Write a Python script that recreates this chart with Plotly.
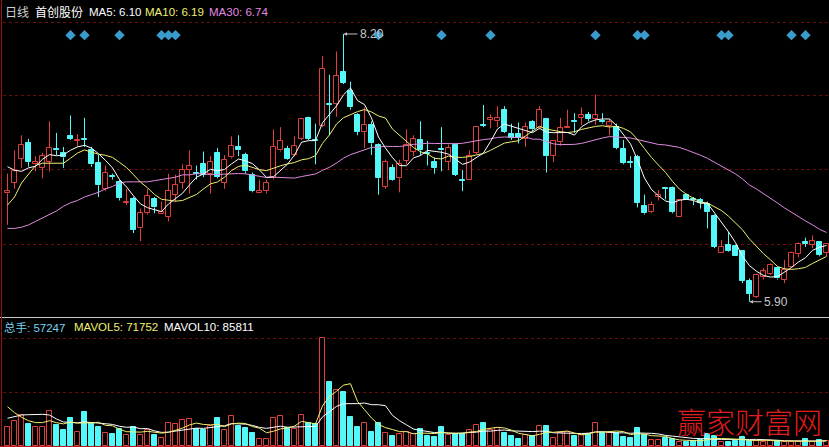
import plotly.graph_objects as go

# ---------------- data ----------------
opens = [6.83, 6.92, 7.13, 7.26, 7.08, 7.05, 7.10, 7.21, 7.18, 7.32,
         7.28, 7.30, 7.20, 7.09, 6.87, 6.98, 6.93, 6.75, 6.78, 6.53,
         6.66, 6.78, 6.65, 6.63, 6.82, 6.92, 7.03, 7.01, 7.08, 7.00,
         7.18, 6.92, 7.14, 7.23, 7.16, 6.99, 6.83, 6.85, 6.96, 7.20,
         7.21, 7.16, 7.30, 7.48, 7.29, 7.41, 7.60, 7.60, 7.87, 7.71,
         7.50, 7.36, 7.42, 7.25, 6.89, 7.05, 6.96, 7.11, 7.19, 7.29,
         7.18, 7.10, 7.21, 7.10, 7.25, 6.95, 6.95, 7.18, 7.42, 7.46,
         7.45, 7.55, 7.34, 7.34, 7.30, 7.44, 7.39, 7.47, 7.15, 7.27,
         7.39, 7.45, 7.48, 7.50, 7.47, 7.45, 7.41, 7.40, 7.21, 7.10,
         7.14, 6.72, 6.67, 6.80, 6.88, 6.88, 6.63, 6.82, 6.78, 6.77,
         6.74, 6.64, 6.32, 6.39, 6.38, 6.34, 6.08, 5.94, 6.11, 6.14,
         6.19, 6.09, 6.20, 6.31, 6.41, 6.39, 6.41, 6.32]
highs = [7.00, 7.20, 7.33, 7.30, 7.15, 7.18, 7.45, 7.35, 7.23, 7.50,
         7.34, 7.48, 7.23, 7.16, 7.07, 7.00, 6.95, 6.87, 6.80, 6.70,
         6.87, 6.80, 6.76, 7.00, 6.99, 7.08, 7.20, 7.07, 7.19, 7.15,
         7.22, 7.16, 7.32, 7.33, 7.18, 7.01, 6.95, 6.95, 7.38, 7.40,
         7.24, 7.32, 7.48, 7.49, 7.43, 8.01, 7.85, 8.05, 8.20, 7.79,
         7.52, 7.57, 7.45, 7.26, 7.12, 7.08, 7.12, 7.38, 7.33, 7.45,
         7.28, 7.14, 7.40, 7.25, 7.26, 7.03, 7.20, 7.40, 7.59, 7.51,
         7.58, 7.58, 7.43, 7.44, 7.44, 7.46, 7.58, 7.48, 7.29, 7.48,
         7.55, 7.52, 7.57, 7.53, 7.68, 7.52, 7.47, 7.43, 7.29, 7.15,
         7.16, 6.82, 6.76, 6.86, 6.88, 6.89, 6.78, 6.83, 6.80, 6.79,
         6.76, 6.65, 6.43, 6.50, 6.39, 6.34, 6.10, 6.14, 6.19, 6.23,
         6.20, 6.26, 6.33, 6.41, 6.45, 6.47, 6.42, 6.40]
lows = [6.56, 6.87, 7.05, 7.06, 7.02, 6.96, 7.02, 7.16, 7.05, 7.29,
        7.23, 7.23, 7.06, 6.80, 6.85, 6.95, 6.77, 6.73, 6.49, 6.42,
        6.65, 6.66, 6.65, 6.59, 6.76, 6.87, 6.83, 6.95, 6.97, 6.83,
        6.96, 6.87, 7.13, 7.15, 7.00, 6.84, 6.83, 6.83, 6.95, 7.19,
        7.12, 7.15, 7.29, 7.29, 7.08, 7.40, 7.33, 7.49, 7.77, 7.55,
        7.33, 7.22, 7.16, 6.82, 6.87, 6.94, 6.84, 7.08, 7.15, 7.16,
        7.07, 7.00, 7.02, 7.03, 6.98, 6.85, 6.95, 7.17, 7.40, 7.39,
        7.40, 7.35, 7.29, 7.26, 7.23, 7.36, 7.38, 7.01, 7.10, 7.24,
        7.39, 7.35, 7.42, 7.45, 7.42, 7.43, 7.33, 7.21, 7.08, 7.05,
        6.71, 6.65, 6.66, 6.77, 6.78, 6.66, 6.63, 6.77, 6.73, 6.70,
        6.53, 6.36, 6.32, 6.33, 6.29, 6.06, 5.90, 5.93, 6.09, 6.13,
        6.09, 6.06, 6.19, 6.28, 6.37, 6.36, 6.29, 6.29]
closes = [6.85, 7.02, 7.25, 7.10, 7.10, 7.15, 7.22, 7.20, 7.14, 7.30,
          7.29, 7.29, 7.08, 6.90, 7.01, 6.97, 6.79, 6.76, 6.52, 6.66,
          6.81, 6.71, 6.67, 6.85, 6.90, 7.03, 7.07, 7.00, 6.99, 7.10,
          6.97, 7.12, 7.24, 7.20, 7.02, 6.85, 6.85, 6.92, 7.23, 7.28,
          7.13, 7.24, 7.47, 7.30, 7.28, 7.90, 7.59, 7.84, 7.78, 7.57,
          7.36, 7.42, 7.26, 6.96, 7.10, 6.95, 7.08, 7.25, 7.30, 7.20,
          7.17, 7.05, 7.20, 7.22, 6.99, 6.94, 7.15, 7.40, 7.41, 7.48,
          7.48, 7.36, 7.31, 7.31, 7.40, 7.38, 7.55, 7.15, 7.28, 7.39,
          7.40, 7.44, 7.50, 7.47, 7.50, 7.44, 7.44, 7.22, 7.09, 7.09,
          6.75, 6.66, 6.73, 6.82, 6.87, 6.67, 6.77, 6.77, 6.77, 6.75,
          6.67, 6.37, 6.37, 6.34, 6.29, 6.08, 5.97, 6.13, 6.16, 6.22,
          6.10, 6.17, 6.32, 6.40, 6.40, 6.42, 6.30, 6.40]
volumes = [193000, 253000, 310000, 220000, 193000, 193000, 350000, 210000, 160000, 283000,
           143000, 343000, 227000, 193000, 127000, 120000, 167000, 110000, 187000, 110000,
           160000, 110000, 77000, 227000, 220000, 260000, 270000, 167000, 160000, 200000,
           283000, 160000, 300000, 200000, 183000, 133000, 73000, 73000, 277000, 300000,
           177000, 167000, 310000, 233000, 220000, 1077000, 643000, 560000, 543000, 293000,
           193000, 227000, 143000, 227000, 127000, 100000, 120000, 143000, 120000, 167000,
           100000, 93000, 187000, 110000, 120000, 120000, 160000, 210000, 227000, 160000,
           177000, 127000, 100000, 73000, 110000, 100000, 200000, 200000, 77000, 127000,
           143000, 100000, 110000, 120000, 227000, 133000, 133000, 135000, 93000, 77000,
           177000, 110000, 60000, 60000, 77000, 67000, 40000, 40000, 53000, 60000,
           120000, 100000, 43000, 43000, 53000, 87000, 53000, 50000, 43000, 53000,
           53000, 43000, 43000, 40000, 67000, 43000, 60000, 53000]
# moving-average values visible at the left edge (they depend on earlier, unseen days)
ma5_head = [7.06, 7.03, 7.02, 7.05]
ma10_head = [6.73, 6.80, 6.92, 7.00, 7.07, 7.09, 7.09, 7.09, 7.09]
ma30_head = [6.53, 6.53, 6.54, 6.56, 6.59, 6.62, 6.65, 6.68, 6.72, 6.75,
             6.77, 6.80, 6.82, 6.84, 6.87, 6.89, 6.92, 6.93, 6.93, 6.93,
             6.93, 6.94, 6.95, 6.96, 6.97, 6.99, 6.99, 7.00, 7.00]
mavol5_head = [393000, 333000, 287000, 253000]
mavol10_head = [277000, 293000, 310000, 313000, 317000, 317000, 310000, 270000, 240000]
signal_days = [9, 11, 16, 22, 23, 24, 53, 62, 69, 84, 90, 91, 102, 103, 112, 114]

stock_name = "首创股份"
title_vals = {"MA5": "6.10", "MA10": "6.19", "MA30": "6.74"}
vol_title = {"总手": "57247", "MAVOL5": "71752", "MAVOL10": "85811"}

# ---------------- styling ----------------
W, H = 829, 447
RED = "#e0403c"
CYAN = "#54f8f8"
WHITE = "#ffffff"
YELLOW = "#f0f070"
PINK = "#e08ae0"
GRID = "#6a0c0c"
SIG = "#3a9ccc"
LAT = "Liberation Sans, Arial, sans-serif"
CJK = "Noto Sans CJK SC, sans-serif"
SIGNAL_LEVEL = 8.19


def px_y(p):
    return 1 - p / H


def px_x(p):
    return p / W


def moving_avg(vals, n, head):
    out = list(head)
    for i in range(len(head), len(vals)):
        out.append(sum(vals[i - n + 1:i + 1]) / n)
    return out


n = len(closes)
idx = list(range(n))
up = [c >= o for o, c in zip(opens, closes)]

ma5 = moving_avg(closes, 5, ma5_head)
ma10 = moving_avg(closes, 10, ma10_head)
ma30 = moving_avg(closes, 30, ma30_head)
mv5 = moving_avg(volumes, 5, mavol5_head)
mv10 = moving_avg(volumes, 10, mavol10_head)

fig = go.Figure()

# wicks (split above/below the body so hollow bodies stay hollow)
for is_up, col in ((True, RED), (False, CYAN)):
    xs, ys = [], []
    for i in idx:
        if up[i] != is_up:
            continue
        top = max(opens[i], closes[i])
        bot = min(opens[i], closes[i])
        xs += [i, i, None, i, i, None]
        ys += [bot, lows[i], None, top, highs[i], None]
    fig.add_trace(go.Scatter(x=xs, y=ys, mode="lines", line=dict(color=col, width=1),
                             hoverinfo="skip", yaxis="y"))

# bodies
fig.add_trace(go.Bar(
    x=idx,
    base=[min(o, c) for o, c in zip(opens, closes)],
    y=[max(abs(c - o), 0.006) for o, c in zip(opens, closes)],
    width=0.6,
    marker=dict(color=["#000000" if u else CYAN for u in up],
                line=dict(color=[RED if u else CYAN for u in up], width=1)),
    yaxis="y", hoverinfo="skip"))

# price moving averages
for vals, col in ((ma30, PINK), (ma10, YELLOW), (ma5, WHITE)):
    fig.add_trace(go.Scatter(x=idx, y=vals, mode="lines", line=dict(color=col, width=1),
                             yaxis="y", hoverinfo="skip"))

# signal diamonds
fig.add_trace(go.Scatter(x=signal_days, y=[SIGNAL_LEVEL] * len(signal_days), mode="markers",
                         marker=dict(symbol="diamond", size=8, color=SIG),
                         yaxis="y", hoverinfo="skip"))

# volume bars
fig.add_trace(go.Bar(
    x=idx, y=volumes, width=0.6,
    marker=dict(color=["#000000" if u else CYAN for u in up],
                line=dict(color=[RED if u else CYAN for u in up], width=1)),
    yaxis="y2", hoverinfo="skip"))
for vals, col in ((mv10, WHITE), (mv5, YELLOW)):
    fig.add_trace(go.Scatter(x=idx, y=vals, mode="lines", line=dict(color=col, width=1),
                             yaxis="y2", hoverinfo="skip"))

# ---------------- grid / frame ----------------
shapes = []
for py in (22, 95, 169, 244, 338, 392):
    shapes.append(dict(type="line", xref="paper", yref="paper", x0=px_x(3), x1=1,
                       y0=px_y(py + 0.5), y1=px_y(py + 0.5),
                       line=dict(color=GRID, width=1, dash="dot"), layer="below"))
shapes.append(dict(type="line", xref="paper", yref="paper", x0=0, x1=1,
                   y0=px_y(317.5), y1=px_y(317.5), line=dict(color="#c8c8c8", width=1)))
shapes.append(dict(type="line", xref="paper", yref="paper", x0=0, x1=1,
                   y0=px_y(446.5), y1=px_y(446.5), line=dict(color="#c01818", width=1)))
shapes.append(dict(type="line", xref="paper", yref="paper", x0=px_x(1.5), x1=px_x(1.5),
                   y0=0, y1=1, line=dict(color="#a01010", width=1)))

ann = []


def txt(x, y, s, col, size=12, fam=LAT):
    ann.append(dict(x=px_x(x), y=px_y(y), xref="paper", yref="paper", text=s,
                    showarrow=False, xanchor="left", yanchor="middle",
                    font=dict(family=fam, size=size, color=col)))


txt(3, 12, "日线", "#d0d0d0", 12, CJK)
txt(33, 12, stock_name, "#ffffff", 12, CJK)
txt(87, 12, "MA5: " + title_vals["MA5"], WHITE, 11.5)
txt(143, 12, "MA10: " + title_vals["MA10"], YELLOW, 11.5)
txt(207, 12, "MA30: " + title_vals["MA30"], PINK, 11.5)

txt(2, 327, "总手: " + vol_title["总手"], "#78d4f0", 11.5, "Liberation Sans, Noto Sans CJK SC")
txt(72, 327, "MAVOL5: " + vol_title["MAVOL5"], YELLOW, 11.5)
txt(162, 327, "MAVOL10: " + vol_title["MAVOL10"], WHITE, 11.5)

# high / low markers
imax = max(idx, key=lambda i: highs[i])
imin = min(idx, key=lambda i: lows[i])
for i, val, off in ((imax, highs[imax], 14), (imin, lows[imin], 12)):
    ann.append(dict(x=i, y=val, xref="x", yref="y", text=f"{val:.2f}", showarrow=True,
                    ax=off, ay=0, arrowhead=2, arrowsize=0.7, arrowwidth=1,
                    arrowcolor="#c0c0c0", xanchor="left", yanchor="middle",
                    font=dict(family=LAT, size=12, color="#c8c8c8")))

# watermark
ann.append(dict(x=px_x(749), y=px_y(421), xref="paper", yref="paper", text="赢家财富网",
                showarrow=False, xanchor="center", yanchor="middle",
                font=dict(family=CJK, size=29, color="#e01c1c", weight=300)))

x0 = -1 - 0.5 / 7
fig.update_layout(
    width=W, height=H, margin=dict(l=0, r=0, t=0, b=0),
    paper_bgcolor="#000000", plot_bgcolor="#000000",
    showlegend=False, barmode="overlay", bargap=0,
    xaxis=dict(range=[x0, x0 + W / 7], visible=False, fixedrange=True, anchor="y2"),
    yaxis=dict(domain=[1 - 317 / H, 1], range=[5.769, 8.492], visible=False),
    yaxis2=dict(domain=[0, 1 - 318 / H], range=[-10000, 1280000], visible=False),
    shapes=shapes, annotations=ann,
)

fig.write_html("out.html", config={"displayModeBar": False},
               post_script="document.body.style.margin='0';"
                           "document.body.style.overflow='hidden';"
                           "document.body.style.background='#000';")
